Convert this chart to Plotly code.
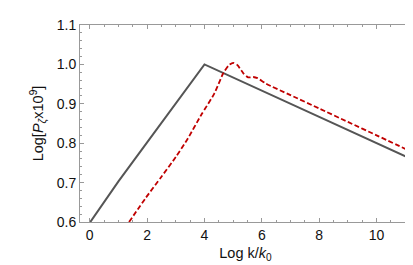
import plotly.graph_objects as go

# Data
gray_x = [0.0, 1.0, 2.0, 3.0, 4.0, 8.0, 11.3]
gray_y = [0.598, 0.703, 0.802, 0.901, 1.0, 0.867, 0.757]

red_x = [1.37, 1.96, 2.5, 3.0, 3.42, 3.88, 4.35, 4.65, 4.85, 5.0, 5.15, 5.35, 5.52,
         5.7, 5.85, 6.15, 7.0, 8.0, 9.0, 10.0, 11.02]
red_y = [0.6, 0.662, 0.715, 0.765, 0.812, 0.871, 0.927, 0.977, 0.998, 1.004, 0.998,
         0.978, 0.967, 0.968, 0.965, 0.951, 0.922, 0.888, 0.854, 0.820, 0.785]

x_ticks = [0, 2, 4, 6, 8, 10]
y_ticks = [0.6, 0.7, 0.8, 0.9, 1.0, 1.1]

fig = go.Figure()
fig.add_trace(go.Scatter(x=gray_x, y=gray_y, mode="lines",
                         line=dict(color="#555555", width=2)))
fig.add_trace(go.Scatter(x=red_x, y=red_y, mode="lines",
                         line=dict(color="#c00000", width=1.8, dash="5px,2.5px",
                                   shape="spline", smoothing=0.6)))

font = dict(family="Liberation Sans, Arial, sans-serif", size=14, color="#111111")
tfont = dict(family="Liberation Sans, Arial, sans-serif", size=14.5, color="#111111")
axis_common = dict(showgrid=False, zeroline=False, showline=True, linecolor="#999999",
                   linewidth=1, mirror="allticks", ticks="inside", ticklen=4,
                   tickcolor="#999999", tickfont=font)

fig.update_xaxes(range=[-0.34, 11.2], tickvals=x_ticks,
                 minor=dict(dtick=0.5, ticks="inside", ticklen=2, tickcolor="#999999"),
                 title=dict(text="Log k/<i>k</i><sub>0</sub>", font=tfont, standoff=6),
                 **axis_common)
fig.update_yaxes(range=[0.6, 1.1], tickvals=y_ticks, tickformat=".1f",
                 minor=dict(dtick=0.02, ticks="inside", ticklen=2, tickcolor="#999999"),
                 title=dict(text="Log[<i>P</i><sub><i>ζ</i></sub>x10<sup>9</sup>]", font=tfont, standoff=9),
                 **axis_common)

fig.update_layout(width=413, height=265, showlegend=False,
                  margin=dict(l=72, r=10, t=9, b=51),
                  plot_bgcolor="white", paper_bgcolor="white", font=font)

fig.write_html("out.html")
